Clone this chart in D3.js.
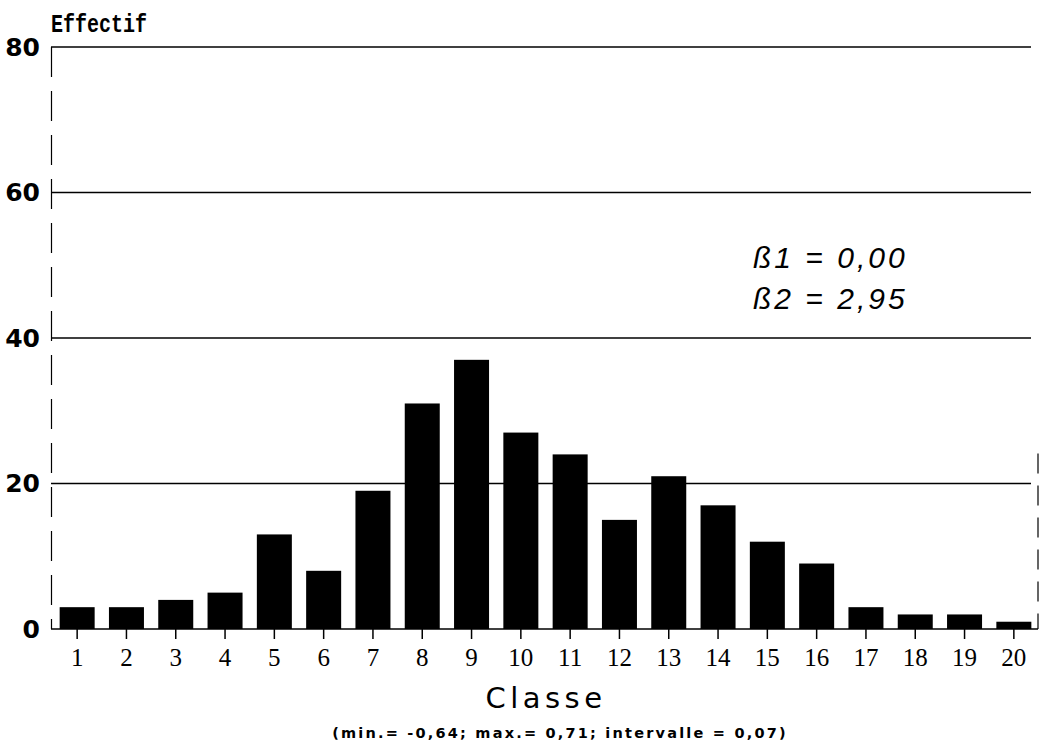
<!DOCTYPE html>
<html><head><meta charset="utf-8">
<script src="https://cdn.jsdelivr.net/npm/d3@7"></script>
<style>body{margin:0;background:#fff}svg{display:block}</style>
</head><body>
<script>
const categories = ["1","2","3","4","5","6","7","8","9","10","11","12","13","14","15","16","17","18","19","20"];
const values = [3,3,4,5,13,8,19,31,37,27,24,15,21,17,12,9,3,2,2,1];
const yTicks = [0,20,40,60,80];
const yTitle = "Effectif";
const xTitle = "Classe";
const xSubtitle = "(min.= -0,64; max.= 0,71; intervalle = 0,07)";
const stats = ["ß1 = 0,00", "ß2 = 2,95"];

const W = 1039, H = 746;
const svg = d3.select("body").append("svg").attr("width", W).attr("height", H);
const x = d3.scaleBand().domain(categories).range([52.5, 1038.5]).paddingInner(0.29).paddingOuter(0.145);
const y = d3.scaleLinear().domain([0, 80]).range([629, 47]);

// gridlines
svg.append("g").selectAll("line").data(yTicks.filter(d => d > 0)).join("line")
  .attr("x1", 51).attr("x2", 1031).attr("y1", d => y(d)).attr("y2", d => y(d))
  .attr("stroke", "#000").attr("stroke-width", 1.5);

// y axis line
svg.append("line").attr("x1", 51.5).attr("x2", 51.5).attr("y1", y(80)).attr("y2", y(0))
  .attr("stroke", "#000").attr("stroke-width", 1.2).attr("stroke-dasharray", "30,14");
// right edge
svg.append("line").attr("x1", 1038).attr("x2", 1038).attr("y1", y(20) - 30).attr("y2", y(0))
  .attr("stroke", "#000").attr("stroke-width", 1.2).attr("stroke-dasharray", "20,12");

// bars
svg.append("g").selectAll("rect").data(values).join("rect")
  .attr("x", (d, i) => x(categories[i])).attr("width", x.bandwidth())
  .attr("y", d => y(d)).attr("height", d => y(0) - y(d)).attr("fill", "#000");

// x axis
const xAxis = svg.append("g").attr("transform", `translate(0,${y(0)})`)
  .call(d3.axisBottom(x).tickSize(10).tickPadding(9));
xAxis.select(".domain").attr("stroke-width", 1.5).attr("d", "M51,0H1038");
xAxis.selectAll(".tick line").attr("stroke-width", 1.5);
xAxis.selectAll("text").attr("font-family", "'Liberation Serif', serif").attr("font-size", 25).attr("fill", "#000");

// y axis labels
const yAxis = svg.append("g").attr("transform", "translate(51,0)")
  .call(d3.axisLeft(y).tickValues(yTicks).tickSize(0).tickPadding(11));
yAxis.select(".domain").remove();
yAxis.selectAll("text").attr("font-family", "'DejaVu Sans', sans-serif").attr("font-weight", "bold")
  .attr("font-size", 25).attr("fill", "#000");

svg.append("text").attr("transform", "translate(51,32) scale(1,1.25)").text(yTitle)
  .attr("font-family", "'Liberation Mono', monospace").attr("font-weight", "bold").attr("font-size", 20);

svg.append("text").attr("x", 546).attr("y", 708).attr("text-anchor", "middle").text(xTitle)
  .attr("font-family", "'DejaVu Sans', sans-serif").attr("font-size", 29).attr("letter-spacing", 4.5);
svg.append("text").attr("x", 560).attr("y", 738).attr("text-anchor", "middle").text(xSubtitle)
  .attr("font-family", "'DejaVu Sans', sans-serif").attr("font-weight", "bold").attr("font-size", 14.5)
  .attr("letter-spacing", 2.2);

svg.append("g").selectAll("text").data(stats).join("text")
  .attr("x", 753).attr("y", (d, i) => 268 + i * 41).text(d => d)
  .attr("font-family", "'Liberation Sans', sans-serif").attr("font-style", "italic").attr("font-size", 30)
  .attr("letter-spacing", 3);
</script>
</body></html>
